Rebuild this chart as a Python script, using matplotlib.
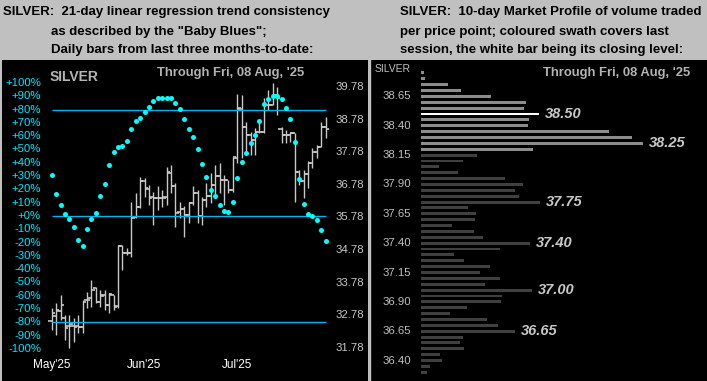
import numpy as np
import matplotlib.pyplot as plt
from matplotlib.lines import Line2D

plt.rcParams['font.family'] = ['Liberation Sans', 'DejaVu Sans']

# ---- left panel data: daily bars + "baby blues" trend consistency ----
opens = [32.60, 32.76, 32.90, 32.70, 32.45, 32.45, 32.45, 32.43, 33.25, 33.30,
         33.62, 33.20, 33.40, 33.10, 33.40, 33.05, 34.90, 34.69, 34.70, 35.80,
         36.10, 36.90, 36.65, 36.40, 36.38, 36.37, 36.40, 37.15, 36.75, 35.95,
         36.04, 35.85, 36.21, 36.54, 35.83, 36.31, 36.45, 36.77, 37.06, 36.93,
         36.93, 36.62, 37.60, 39.10, 38.56, 38.31, 38.15, 38.41, 38.40, 39.23,
         39.23, 39.53, 38.50, 38.31, 38.31, 38.36, 37.18, 36.90, 37.11, 37.44,
         37.80, 37.95, 38.56]
highs = [33.00, 33.14, 33.40, 32.79, 32.79, 32.70, 32.79, 33.25, 33.50, 33.86,
         33.66, 33.55, 33.55, 33.46, 33.40, 34.93, 34.93, 34.84, 36.26, 36.52,
         37.03, 36.98, 36.77, 36.57, 36.74, 36.62, 37.34, 37.39, 36.83, 36.26,
         36.13, 36.26, 36.74, 36.62, 36.42, 36.83, 37.13, 37.39, 37.44, 37.08,
         36.93, 37.64, 39.56, 39.53, 38.72, 38.41, 38.51, 38.67, 39.43, 39.69,
         39.89, 39.79, 38.56, 38.46, 38.41, 38.36, 37.23, 37.23, 37.51, 37.92,
         37.99, 38.72, 38.87]
lows = [32.33, 32.17, 32.63, 32.02, 31.77, 31.97, 32.24, 32.24, 33.00, 33.04,
        33.15, 33.04, 32.94, 32.85, 32.94, 33.00, 34.17, 34.63, 34.57, 35.75,
        36.06, 36.42, 36.16, 35.55, 36.01, 36.11, 36.16, 36.52, 35.49, 35.75,
        35.19, 35.62, 36.16, 35.62, 35.55, 36.11, 36.21, 36.37, 36.52, 36.16,
        36.52, 36.57, 37.44, 37.60, 37.80, 37.69, 37.69, 38.36, 38.36, 39.07,
        39.23, 38.92, 38.05, 38.05, 38.08, 36.26, 36.77, 36.39, 36.67, 37.29,
        37.59, 37.95, 38.21]
closes = [32.86, 32.95, 33.09, 32.39, 32.50, 32.42, 32.43, 33.20, 33.25, 33.55,
          33.20, 33.37, 33.09, 33.43, 33.04, 34.90, 34.69, 34.69, 35.77, 36.11,
          36.91, 36.67, 36.37, 36.38, 36.37, 36.37, 37.18, 36.75, 35.92, 36.04,
          35.85, 36.21, 36.54, 35.83, 36.31, 36.45, 36.77, 37.06, 36.93, 36.93,
          36.62, 37.64, 39.13, 38.56, 38.31, 38.15, 38.41, 38.40, 39.23, 39.23,
          39.53, 39.43, 38.31, 38.31, 38.36, 37.18, 36.90, 37.11, 37.44, 37.80,
          37.95, 38.56, 38.50]
blues = [31, 16.8, 8.5, 1.7, -2, -8, -17.8, -22.3, -9.5, -2,
         2.5, 15, 24, 38.6, 48, 52, 53, 56.6, 65.6, 71.7,
         74, 78.4, 82, 86.7, 89, 89, 89, 89, 85, 80.7,
         73, 65.6, 59.6, 50.6, 39.3, 29.5, 19.8, 15.3, 8.5, 4,
         3.2, 10.8, 28.8, 40.8, 47.6, 55, 61, 71.7, 84.4, 88.2,
         90.4, 90.4, 88.2, 81.4, 73, 55.9, 28, 9.2, 1.7, 0.2,
         -2.8, -10.5, -18.8]
month_labels = ["May'25", "Jun'25", "Jul'25"]
month_pos = [0, 21, 42]
pct_ticks = list(range(100, -101, -10))
price_ticks = [39.78, 38.78, 37.78, 36.78, 35.78, 34.78, 33.78, 32.78, 31.78]
blue_levels = [80, 0, -80]

# ---- right panel data: 10-day market profile ----
prof_prices = [38.85, 38.80, 38.75, 38.70, 38.65, 38.60, 38.55, 38.50, 38.45, 38.40,
               38.35, 38.30, 38.25, 38.20, 38.15, 38.10, 38.05, 38.00, 37.95, 37.90,
               37.85, 37.80, 37.75, 37.70, 37.65, 37.60, 37.55, 37.50, 37.45, 37.40,
               37.35, 37.30, 37.25, 37.20, 37.15, 37.10, 37.05, 37.00, 36.95, 36.90,
               36.85, 36.80, 36.75, 36.70, 36.65, 36.60, 36.55, 36.50, 36.45, 36.40,
               36.35, 36.30]
prof_vol = [3, 4, 26.7, 39.7, 69.7, 104.7, 102.7, 118, 107.7, 106.7,
            187.7, 210.7, 221.7, 112.3, 55.7, 41.7, 17.7, 36.7, 83.7, 101.7,
            93.7, 97.7, 118.7, 46.7, 54.7, 53.7, 30.7, 53, 61.7, 109,
            79, 33, 43, 69, 59, 79, 64, 111, 81, 80,
            45.7, 29, 66, 77, 94, 42, 39, 43, 19, 21,
            9, 6]
prof_ticks = [38.65, 38.40, 38.15, 37.90, 37.65, 37.40, 37.15, 36.90, 36.65, 36.40]
marked = [38.50, 38.25, 37.75, 37.40, 37.00, 36.65]
session_low, session_high, last_close = 38.20, 38.85, 38.50

W, H = 707, 381
fig = plt.figure(figsize=(W / 100, H / 100), dpi=100, facecolor='#c0c0c0')


def blank(a, face):
    a.set_facecolor(face)
    a.set_xticks([])
    a.set_yticks([])
    for s in a.spines.values():
        s.set_visible(False)


# header texts
hdr = dict(fontsize=9.5, fontweight='bold', color='black', va='center')
fig.text(3 / W, 1 - 11.7 / H, 'SILVER:  21-day linear regression trend consistency', **hdr)
fig.text(51 / W, 1 - 31.5 / H, 'as described by the "Baby Blues";', **hdr)
fig.text(51 / W, 1 - 50.5 / H, 'Daily bars from last three months-to-date:', **hdr)
fig.text(400 / W, 1 - 11.7 / H, 'SILVER:  10-day Market Profile of volume traded', **hdr)
fig.text(400 / W, 1 - 31.5 / H, 'per price point; coloured swath covers last', **hdr)
fig.text(400 / W, 1 - 50.5 / H, 'session, the white bar being its closing level:', **hdr)

# ---------------- left panel ----------------
ax = fig.add_axes([2 / W, 0, 366 / W, 321 / H])   # price scale
blank(ax, 'black')
ax.set_xlim(-11.24, 71.56)
ax.set_ylim(30.762, 40.608)
axp = ax.twinx()                                  # percent scale, on top
blank(axp, 'none')
axp.set_ylim(-124.1, 117.3)

n = len(closes)
x = np.arange(n)
axp.hlines(blue_levels, 0, n - 1, color='#00b4f0', lw=1.0)
ax.vlines(x, lows, highs, color='#c8c8c8', lw=1.0)
ax.hlines(opens, x - 0.75, x, color='#c8c8c8', lw=1.2)
ax.hlines(closes, x, x + 0.75, color='#c8c8c8', lw=1.2)
axp.plot(x, blues, 'o', color='#00ffff', ms=3.6, mec='none')

for p in pct_ticks:
    lab = ('+' if p >= 0 else '') + f'{p}%'
    axp.text(-2.4, p, lab, color='#00e8ff', fontsize=8.2, ha='right', va='center')
for p in price_ticks:
    ax.text(64.3, p, f'{p:.2f}', color='#c8c8c8', fontsize=8.2, ha='left', va='center')
for m, pos in zip(month_labels, month_pos):
    axp.text(pos, -112, m, color='white', fontsize=8.5, ha='center', va='center')
axp.text(-0.4, 104.5, 'SILVER', color='#b4b4b4', fontsize=10, fontweight='bold', va='center')
axp.text(23.8, 107.5, "Through Fri, 08 Aug, '25", color='#b4b4b4', fontsize=9.4,
         fontweight='bold', va='center')

# ---------------- right panel ----------------
bx = fig.add_axes([370 / W, 0, 337 / W, 321 / H])
blank(bx, 'black')
bx.set_xlim(-51, 286)
bx.set_ylim(36.226, 38.96)

cols = []
for p in prof_prices:
    if abs(p - last_close) < 1e-6:
        cols.append('white')
    elif session_low - 1e-6 <= p <= session_high + 1e-6:
        cols.append('#8c8c8c')
    else:
        cols.append('#404040')
bx.barh(prof_prices, prof_vol, height=0.025, left=0, color=cols)

for p in prof_ticks:
    bx.text(-10, p, f'{p:.2f}', color='#c0c0c0', fontsize=8.2, ha='right', va='center')
for p in marked:
    v = prof_vol[prof_prices.index(p)]
    bx.text(v + 6, p, f'{p:.2f}', color='#c8c8c8', fontsize=10.5, fontweight='bold',
            style='italic', ha='left', va='center')
bx.text(-28, 38.883, 'SILVER', color='#c0c0c0', fontsize=7.5, ha='center', va='center')
bx.text(122, 38.85, "Through Fri, 08 Aug, '25", color='#b4b4b4', fontsize=9.4,
        fontweight='bold', va='center')

fig.add_artist(Line2D([369.5 / W] * 2, [0, 321 / H], color='#c0c0c0', lw=1))

fig.savefig('out.png', dpi=100, facecolor=fig.get_facecolor())
